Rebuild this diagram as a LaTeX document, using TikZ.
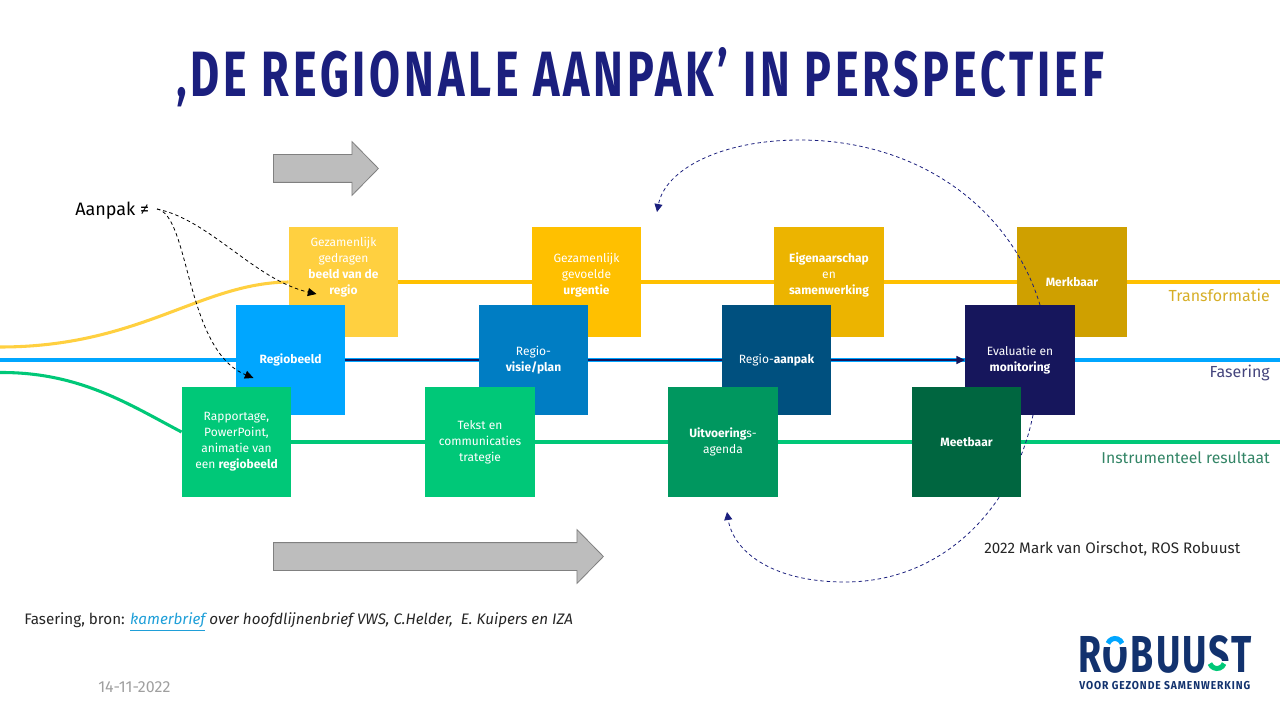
\documentclass[tikz,border=0pt]{standalone}
\usepackage{fontspec}
\setmainfont{Fira Sans}
\newfontfamily\titlefont[FakeStretch=0.70,LetterSpace=6]{Fira Sans}
\newfontfamily\logofont[FakeStretch=0.72,LetterSpace=4]{Fira Sans}
\newfontfamily\logosubfont[FakeStretch=0.9,LetterSpace=8]{Fira Sans}
\usetikzlibrary{arrows.meta,calc,shapes.arrows,backgrounds}
\definecolor{titleblue}{HTML}{1B1F7E}
\definecolor{geel1}{HTML}{FFD040}
\definecolor{geel2}{HTML}{FFC000}
\definecolor{geel3}{HTML}{ECB400}
\definecolor{geel4}{HTML}{CFA000}
\definecolor{blauw1}{HTML}{00A6FF}
\definecolor{blauw2}{HTML}{007DC3}
\definecolor{blauw3}{HTML}{00507F}
\definecolor{blauw4}{HTML}{16165C}
\definecolor{groen1}{HTML}{00C878}
\definecolor{groen3}{HTML}{00975F}
\definecolor{groen4}{HTML}{006640}
\definecolor{logoblue}{HTML}{12326E}
\definecolor{linkblue}{HTML}{1F9FD8}
\definecolor{pijlgrijs}{HTML}{BDBDBD}
\definecolor{pijlrand}{HTML}{808080}
\tikzset{
  tile/.style={minimum size=82pt, inner sep=0pt, align=center, text=white,
    font=\fontsize{9}{12}\selectfont},
  phaseline/.style={line width=2.3pt},
  pijl/.style={single arrow, draw=pijlrand, fill=pijlgrijs, line width=0.6pt, anchor=tail,
    text height=20.25pt, text depth=0pt, inner sep=0pt, single arrow head extend=9.75pt,
    single arrow tip angle=91, single arrow head indent=0pt},
  loopline/.style={-{Triangle[length=6pt,width=6pt]}, titleblue, line width=0.6pt,
    dash pattern=on 2.6pt off 2.2pt},
  aanpakline/.style={-{Triangle[length=6.5pt,width=6pt]}, black, line width=0.6pt,
    dash pattern=on 2.6pt off 2.2pt},
  sidelabel/.style={anchor=east, inner sep=0pt, font=\fontsize{12}{14}\selectfont},
  plain/.style={anchor=west, inner sep=0pt, text=black!85, font=\fontsize{11.4}{13}\selectfont},
}
\begin{document}
\begin{tikzpicture}[x=0.75pt,y=-0.75pt]
  \useasboundingbox (0,0) rectangle (1280,720);
  \node[font=\titlefont\fontsize{48}{48}\selectfont\bfseries, text=titleblue] (title) at (640,77)
    {‚DE REGIONALE AANPAK’ IN PERSPECTIEF};
  % middle row
  \node[tile, fill=blauw1] (regio) at (290.5,360) {\textbf{Regiobeeld}};
  \node[tile, fill=blauw2] (visie) at (533.5,360) {Regio-\\\textbf{visie/plan}};
  \node[tile, fill=blauw3] (aanpak) at (776.5,360) {Regio-\textbf{aanpak}};
  \node[tile, fill=blauw4] (eval) at (1020,360) {Evaluatie en\\\textbf{monitoring}};
  % bottom row
  \node[tile, fill=groen1] (rapport) at (236.5,442) {Rapportage,\\PowerPoint,\\animatie van\\een \textbf{regiobeeld}};
  \node[tile, fill=groen1] (tekst) at (480,442) {Tekst en\\communicaties\\trategie};
  \node[tile, fill=groen3] (agenda) at (723,442) {\textbf{Uitvoering}s-\\agenda};
  \node[tile, fill=groen4] (meet) at (966.5,442) {\textbf{Meetbaar}};
  % free ends of the lines
  \coordinate (gl) at (0,347);
  \coordinate (gr) at (1280,282);
  \coordinate (bl) at (0,360);
  \coordinate (br) at (1280,360);
  \coordinate (ml) at (0,372.5);
  \coordinate (mr) at (1280,442);
  \coordinate (backtop) at (657,212);
  \coordinate (backlow) at (727,512);
  \begin{scope}[on background layer]
    % the lines, then the top row, then the loop back over Merkbaar
    \draw[phaseline, color=blauw1] (bl) -- (br);
    \draw[-{Triangle[length=6.5pt,width=6pt]}, blauw4, line width=1.1pt] (regio.east) -- (eval.west);
    \node[tile, fill=geel1] (beeld) at (343.5,282) {Gezamenlijk\\gedragen\\\textbf{beeld van de}\\\textbf{regio}\\~\\~};
    \node[tile, fill=geel2] (urgentie) at (586.5,282) {Gezamenlijk\\gevoelde\\\textbf{urgentie}\\~};
    \node[tile, fill=geel3] (eigen) at (829,282) {\textbf{Eigenaarschap}\\en\\\textbf{samenwerking}\\~};
    \node[tile, fill=geel4] (merk) at (1072,282) {\textbf{Merkbaar}};
    \draw[phaseline, color=geel1] (gl) .. controls (140,347) and (200,283) .. (beeld.west);
    \draw[phaseline, color=geel2] (beeld.east) -- (urgentie.west);
    \draw[phaseline, color=geel2] (urgentie.east) -- (eigen.west);
    \draw[phaseline, color=geel2] (eigen.east) -- (merk.west);
    \draw[phaseline, color=geel2] (merk.east) -- (gr);
    \draw[phaseline, color=groen1] (ml) .. controls (80,372) and (130,405) .. ($(rapport.west)+(0,-10)$);
    \draw[phaseline, color=groen1] (rapport.east) -- (tekst.west);
    \draw[phaseline, color=groen1] (tekst.east) -- (agenda.west);
    \draw[phaseline, color=groen1] (agenda.east) -- (meet.west);
    \draw[phaseline, color=groen1] (meet.east) -- (mr);
    \draw[loopline] ([xshift=15pt]eval.north) .. controls (1010,205) and (915,140) .. (800,140)
      .. controls (720,140) and (665,170) .. (backtop);
    \draw[loopline] ([xshift=9.75pt]eval.south) .. controls (1015,505) and (945,582) .. (845,582)
      .. controls (770,582) and (733,550) .. (backlow);
  \end{scope}
  % grey block arrows
  \node[pijl, minimum height=78.75pt] (pijlboven) at (273,168.5) {};
  \node[pijl, minimum height=247.5pt] (pijlonder) at (273,556.5) {};
  % aanpak
  \node[anchor=west, inner sep=0pt, text=black, font=\fontsize{13.5}{16}\selectfont] (aan) at (75,211) {Aanpak ≠};
  \coordinate (aanstart) at (157,209);
  \draw[aanpakline] (aanstart) .. controls (210,220) and (255,280) .. ($(beeld)+(-27,12)$);
  \draw[aanpakline] (aanstart) .. controls (190,215) and (185,350) .. ($(regio)+(-37,18)$);
  % labels on the right
  \node[sidelabel, text=geel4!85!white] (ltrans) at (1270,295) {Transformatie};
  \node[sidelabel, text=blauw4!80!white] (lfase) at (1270,373) {Fasering};
  \node[sidelabel, text=groen4!80!white, font=\fontsize{11.8}{14}\selectfont] (linstr) at (1270,458) {Instrumenteel resultaat};
  \node[plain] (credit) at (984,549) {2022 Mark van Oirschot, ROS Robuust};
  \node[plain] (bron) at (24,622)
    {Fasering, bron: \textit{\textcolor{linkblue}{\underline{kamerbrief}} over hoofdlijnenbrief VWS, C.Helder,~ E. Kuipers en IZA}};
  \node[anchor=west, inner sep=0pt, text=gray!75, font=\fontsize{12}{14}\selectfont] (datum) at (98,687) {14-11-2022};
  % logo
  \node[anchor=west, inner sep=0pt, text=logoblue, font=\logofont\fontsize{39}{39}\selectfont\bfseries] (logo) at (1078,654) {ROBUUST};
  \fill[white] (1101,630) rectangle (1129,647);
  \draw[blauw1, line width=3.75pt] (1115,646) ++(200:7.5) arc[start angle=200, end angle=340, radius=7.5];
  \fill[white] (1205,661) rectangle (1230,676);
  \draw[groen1, line width=3.75pt] (1217,661) ++(160:7.5) arc[start angle=160, end angle=20, radius=7.5];
  \node[anchor=west, inner sep=0pt, text=logoblue, font=\logosubfont\fontsize{8.6}{9}\selectfont\bfseries] (logosub) at (1079,686) {VOOR GEZONDE SAMENWERKING};
\end{tikzpicture}
\end{document}
